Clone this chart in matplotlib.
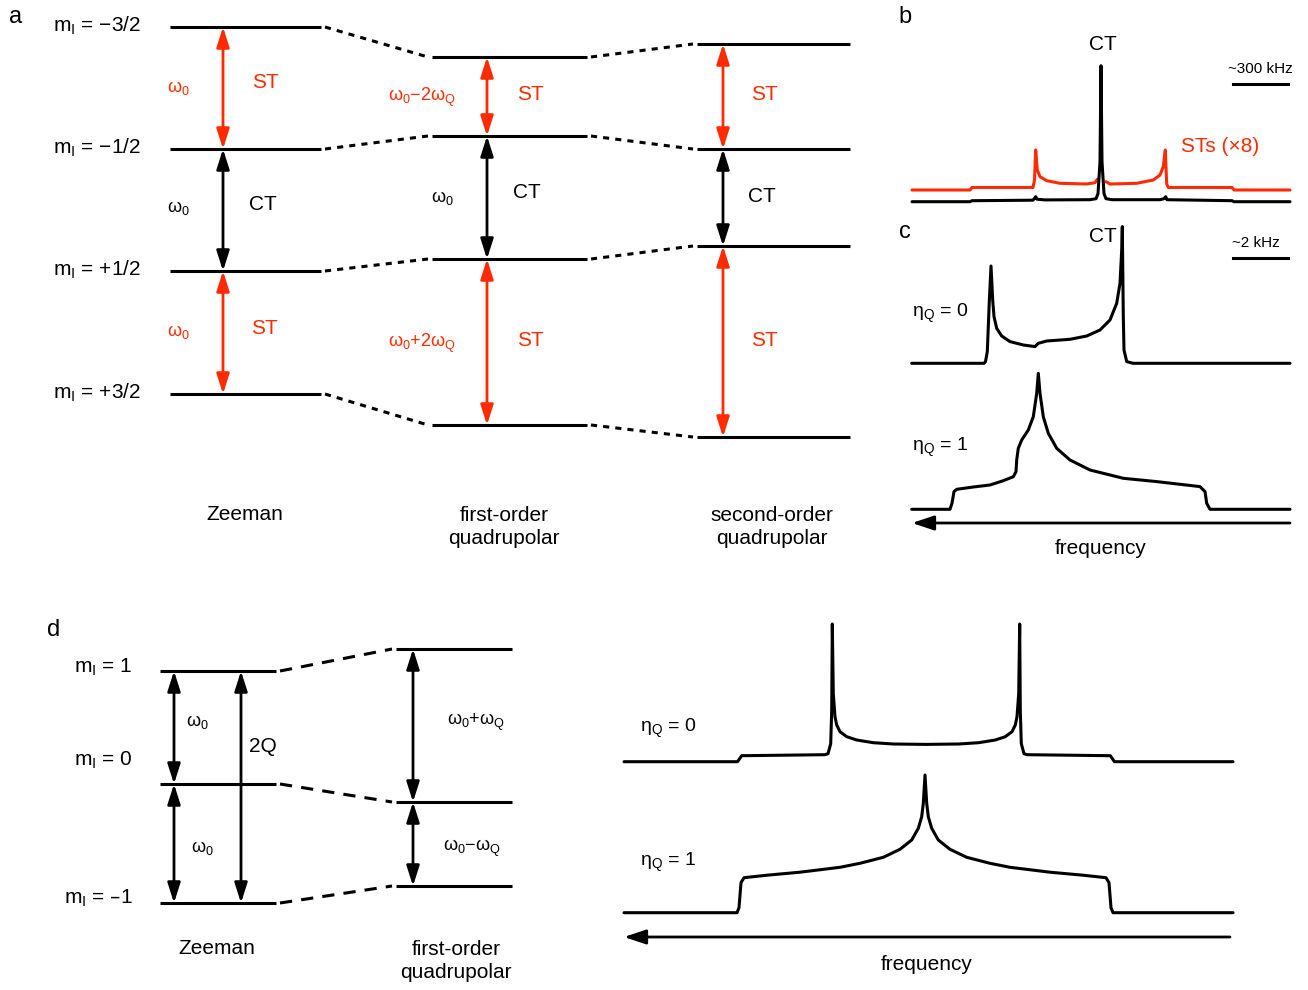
import numpy as np
import matplotlib.pyplot as plt

plt.rcParams['font.family'] = ['Liberation Sans', 'DejaVu Sans']
plt.rcParams['mathtext.default'] = 'regular'

RED = '#ff2a00'

# energy levels (pixel y) for panel a: Zeeman, first-order, second-order
lev_zee = [27, 149, 271, 394]
lev_q1 = [57, 136, 259, 425]
lev_q2 = [44, 149, 246, 437]
m_labels_a = ['m$_I$ = \u22123/2', 'm$_I$ = \u22121/2', 'm$_I$ = +1/2', 'm$_I$ = +3/2']

# panel d levels
lev_d_zee = [671, 784, 903]
lev_d_q1 = [649, 802, 886]
m_labels_d = ['m$_I$ = 1', 'm$_I$ = 0', 'm$_I$ = \u20131']

# panel b spectra (x, intensity above baseline)
b_st_left_x = [912, 970, 972, 1033, 1034.5, 1035.7, 1037.3, 1040, 1046.7, 1060, 1086.7, 1095, 1097.3]
b_st_left_i = [0, 0, 2.5, 2.5, 10, 40, 20, 13.3, 9.3, 6.7, 6, 7.3, 10.7]
b_st_right_x = [1106, 1110, 1136.7, 1153.3, 1160, 1163.3, 1165.3, 1166.7, 1168.3, 1232, 1234, 1290]
b_st_right_i = [8.3, 6, 6.7, 10, 15, 23.3, 40, 6, 2.5, 2.5, 0, 0]
b_ct_x = [912, 970, 972, 1033, 1035, 1035.7, 1037, 1045, 1090, 1096, 1098, 1100, 1101, 1102,
          1104, 1106, 1112, 1160, 1164, 1165.7, 1167, 1232, 1234, 1290]
b_ct_i = [0, 0, 1, 1.5, 4, 5, 2.5, 1.8, 2, 3, 8, 40, 136, 40, 8, 3, 2, 2, 3, 5, 2, 1, 0, 0]

# panel c spectra
c_eta0_x = [911.7, 984, 985.5, 987.3, 989.3, 991, 992.7, 994, 996.7, 1001.7, 1010, 1023.3, 1035,
            1038.3, 1046.7, 1070, 1086.7, 1100, 1110, 1116.7, 1120, 1121.7, 1122.3, 1123.3, 1124,
            1126.7, 1133, 1290]
c_eta0_i = [0, 0, 1.7, 11.7, 61.7, 97.3, 63.3, 46.7, 35, 27.3, 21.7, 18.3, 16.7, 20, 22.3, 24,
            27.3, 33.3, 43.3, 60, 80, 113, 136.7, 46.7, 13.3, 1.7, 0, 0]
c_eta1_x = [911.7, 950, 952, 954, 956.7, 973.3, 990, 1003.3, 1013.3, 1016, 1016.7, 1018.3,
            1021.7, 1028.3, 1033.3, 1036.7, 1038.3, 1040, 1043.3, 1048.3, 1056.7, 1070, 1090,
            1123.3, 1156.7, 1200, 1205, 1206.7, 1210, 1290]
c_eta1_i = [0, 0, 6, 17.7, 20, 22.3, 24.3, 28.6, 32.6, 37.6, 49.3, 61, 69.3, 79.3, 92.6, 116,
            136, 116, 92.6, 76, 61, 49.3, 39.3, 31, 27.7, 22.7, 17.7, 6, 0, 0]

# panel d spectra
d_eta0_x = [624, 737.5, 741.7, 825, 828, 830.7, 831.7, 832.3, 833.3, 835, 836.7, 840, 846.7,
            856.7, 873.3, 893.3, 926, 958.7, 978.7, 995.3, 1005.3, 1012, 1015.3, 1017, 1018.7,
            1019.7, 1020.3, 1021.3, 1024, 1027, 1110.3, 1114.5, 1233]
d_eta0_i = [0, 0, 6, 7, 8, 18, 51, 137.7, 68, 45, 36.7, 30, 25, 21.7, 19, 17.7, 17.3, 17.7, 19,
            21.7, 25, 30, 36.7, 45, 68, 137.7, 51, 18, 8, 7, 6, 0, 0]
d_eta1_x = [624, 737, 739, 741, 744, 767, 800, 840, 860, 883.3, 900, 911.7, 918.3, 921.7, 923.3,
            925, 926.7, 928.3, 931.7, 938.3, 950, 966.7, 990, 1010, 1050, 1083, 1106, 1109, 1111,
            1113, 1233]
d_eta1_i = [0, 0, 5, 30, 35, 37.5, 40.5, 45.4, 49.4, 55.4, 63.4, 72.7, 84.4, 96, 109.4, 137.7,
            109.4, 96, 84.4, 72.7, 63.4, 55.4, 49.4, 45.4, 40.5, 37.5, 35, 30, 5, 0, 0]

fig = plt.figure(figsize=(13.08, 9.9), dpi=100)
ax = fig.add_axes([0, 0, 1, 1])
ax.set_xlim(0, 1308)
ax.set_ylim(990, 0)
ax.axis('off')

LW = 2.2


def level_set(x0, x1, ys):
    for y in ys:
        ax.plot([x0, x1], [y, y], color='black', lw=LW, solid_capstyle='butt')


def connect(x0, ys0, x1, ys1, dash):
    for a, b in zip(ys0, ys1):
        ax.plot([x0 + 4, x1 - 4], [a, b], color='black', lw=LW, linestyle=(0, dash))


def darrow(x, y0, y1, color):
    ax.annotate('', xy=(x, y1), xytext=(x, y0),
                arrowprops=dict(arrowstyle='<|-|>,head_length=1.1,head_width=0.35',
                                color=color, lw=2, mutation_scale=11,
                                shrinkA=0, shrinkB=0))


def spectrum(xs, ints, base, color='black'):
    ax.plot(xs, base - np.array(ints), color=color, lw=2.2,
            solid_joinstyle='round', solid_capstyle='round')


# ---- panel a
level_set(170, 321, lev_zee)
level_set(432, 587, lev_q1)
level_set(697, 850, lev_q2)
connect(321, lev_zee, 432, lev_q1, (2, 2))
connect(587, lev_q1, 697, lev_q2, (2, 2))

for y, lab in zip(lev_zee, m_labels_a):
    ax.text(141, y - 1, lab, fontsize=15, ha='right', va='center')

arrow_cols = [RED, 'black', RED]
for col_x, lev in [(223, lev_zee), (487, lev_q1), (723, lev_q2)]:
    for k in range(3):
        darrow(col_x, lev[k], lev[k + 1], arrow_cols[k])

ax.text(178, 88, '\u03c9$_0$', fontsize=13, color=RED, ha='center', va='center')
ax.text(265, 83, 'ST', fontsize=15, color=RED, ha='center', va='center')
ax.text(178, 208, '\u03c9$_0$', fontsize=13, ha='center', va='center')
ax.text(263, 205, 'CT', fontsize=15, ha='center', va='center')
ax.text(178, 332, '\u03c9$_0$', fontsize=13, color=RED, ha='center', va='center')
ax.text(264, 328, 'ST', fontsize=15, color=RED, ha='center', va='center')

ax.text(422, 97, '\u03c9$_0$\u22122\u03c9$_Q$', fontsize=13, color=RED, ha='center', va='center')
ax.text(530, 95, 'ST', fontsize=15, color=RED, ha='center', va='center')
ax.text(442, 198, '\u03c9$_0$', fontsize=13, ha='center', va='center')
ax.text(527, 192, 'CT', fontsize=15, ha='center', va='center')
ax.text(422, 343, '\u03c9$_0$+2\u03c9$_Q$', fontsize=13, color=RED, ha='center', va='center')
ax.text(530, 340, 'ST', fontsize=15, color=RED, ha='center', va='center')

ax.text(764, 95, 'ST', fontsize=15, color=RED, ha='center', va='center')
ax.text(762, 196, 'CT', fontsize=15, ha='center', va='center')
ax.text(764, 340, 'ST', fontsize=15, color=RED, ha='center', va='center')

ax.text(245, 514, 'Zeeman', fontsize=15, ha='center', va='center')
ax.text(504, 527, 'first-order\nquadrupolar', fontsize=15, ha='center', va='center', linespacing=1.25)
ax.text(772, 527, 'second-order\nquadrupolar', fontsize=15, ha='center', va='center', linespacing=1.25)

# ---- panel b
spectrum(b_st_left_x, b_st_left_i, 190, RED)
spectrum(b_st_right_x, b_st_right_i, 190, RED)
spectrum(b_ct_x, b_ct_i, 201.7)
ax.text(1103, 44, 'CT', fontsize=15, ha='center', va='center')
ax.text(1260, 69, '~300 kHz', fontsize=11, ha='center', va='center')
ax.plot([1233, 1288], [84, 84], color='black', lw=2.2)
ax.text(1220, 146, 'STs (\u00d78)', fontsize=15, color=RED, ha='center', va='center')

# ---- panel c
spectrum(c_eta0_x, c_eta0_i, 363.3)
spectrum(c_eta1_x, c_eta1_i, 509.3)
ax.text(1103, 237, 'CT', fontsize=15, ha='center', va='center')
ax.text(1256, 243, '~2 kHz', fontsize=11, ha='center', va='center')
ax.plot([1233, 1288], [258, 258], color='black', lw=2.2)
ax.text(912, 313, '\u03b7$_Q$ = 0', fontsize=14, ha='left', va='center')
ax.text(912, 447, '\u03b7$_Q$ = 1', fontsize=14, ha='left', va='center')
ax.annotate('', xy=(912, 523), xytext=(1290, 523),
            arrowprops=dict(arrowstyle='-|>,head_length=1.2,head_width=0.4', color='black',
                            lw=2, mutation_scale=11, shrinkA=0, shrinkB=0))
ax.text(1101, 548, 'frequency', fontsize=15, ha='center', va='center')

# ---- panel d
level_set(160, 276, lev_d_zee)
level_set(396, 512, lev_d_q1)
connect(276, lev_d_zee, 396, lev_d_q1, (4, 3))
ax.text(133, 667, m_labels_d[0], fontsize=15, ha='right', va='center')
ax.text(133, 760, m_labels_d[1], fontsize=15, ha='right', va='center')
ax.text(133, 898, m_labels_d[2], fontsize=15, ha='right', va='center')
darrow(174, lev_d_zee[0], lev_d_zee[1], 'black')
darrow(174, lev_d_zee[1], lev_d_zee[2], 'black')
darrow(241, lev_d_zee[0], lev_d_zee[2], 'black')
darrow(413, lev_d_q1[0], lev_d_q1[1], 'black')
darrow(413, lev_d_q1[1], lev_d_q1[2], 'black')
ax.text(197, 722, '\u03c9$_0$', fontsize=13, ha='center', va='center')
ax.text(263, 746, '2Q', fontsize=15, ha='center', va='center')
ax.text(202, 848, '\u03c9$_0$', fontsize=13, ha='center', va='center')
ax.text(476, 722, '\u03c9$_0$+\u03c9$_Q$', fontsize=13, ha='center', va='center')
ax.text(472, 848, '\u03c9$_0$\u2212\u03c9$_Q$', fontsize=13, ha='center', va='center')
ax.text(217, 948, 'Zeeman', fontsize=15, ha='center', va='center')
ax.text(456, 961, 'first-order\nquadrupolar', fontsize=15, ha='center', va='center', linespacing=1.25)

spectrum(d_eta0_x, d_eta0_i, 761.7)
spectrum(d_eta1_x, d_eta1_i, 912.7)
ax.text(640, 728, '\u03b7$_Q$ = 0', fontsize=14, ha='left', va='center')
ax.text(640, 862, '\u03b7$_Q$ = 1', fontsize=14, ha='left', va='center')
ax.annotate('', xy=(624, 937), xytext=(1230, 937),
            arrowprops=dict(arrowstyle='-|>,head_length=1.2,head_width=0.4', color='black',
                            lw=2, mutation_scale=11, shrinkA=0, shrinkB=0))
ax.text(927, 964, 'frequency', fontsize=15, ha='center', va='center')

# panel letters
ax.text(16, 17, 'a', fontsize=17, ha='center', va='center')
ax.text(905, 17, 'b', fontsize=17, ha='center', va='center')
ax.text(905, 232, 'c', fontsize=17, ha='center', va='center')
ax.text(54, 630, 'd', fontsize=17, ha='center', va='center')

fig.savefig('out.png', dpi=100)
